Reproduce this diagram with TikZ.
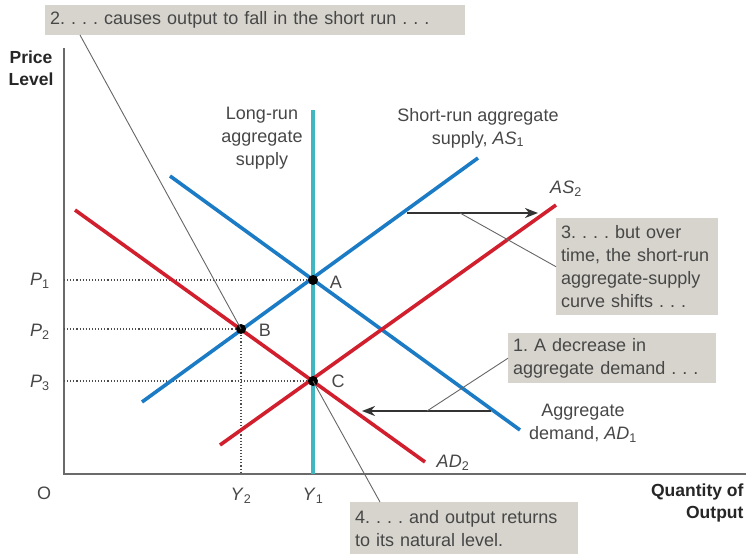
\documentclass[tikz,border=0pt]{standalone}
\usepackage{fontspec}
\setmainfont{Liberation Sans}
\usetikzlibrary{arrows.meta}
\definecolor{asblue}{HTML}{1B7BC4}
\definecolor{adred}{HTML}{D21F2E}
\definecolor{lrteal}{HTML}{3FB6C2}
\definecolor{boxgray}{HTML}{D6D4CC}
\definecolor{txtgray}{HTML}{474747}
\definecolor{axgray}{HTML}{6A6A6A}
\newcommand{\subl}[2]{\textit{#1}\textsubscript{#2}}
\frenchspacing
\begin{document}
\begin{tikzpicture}[x=1pt,y=-1pt,
  every node/.style={text=txtgray,font=\fontsize{18}{23}\selectfont},
  callout/.style={fill=boxgray,anchor=north west,align=left,inner xsep=5pt,inner ysep=2pt},
  curve/.style={line width=3.6pt},
  axisline/.style={axgray,line width=1.4pt},
  guide/.style={black!70,line width=1.1pt,dotted},
  leader/.style={black!60,line width=0.9pt},
  shiftarrow/.style={black!80,line width=2pt,-{Stealth[length=13pt,width=10pt]}},
  eqdot/.style={circle,fill=black,inner sep=0pt,minimum size=10pt},
  bold/.style={font=\fontsize{17.5}{22}\selectfont\bfseries,text=black!85},
  lbl/.style={inner sep=1pt}]
\useasboundingbox (0,0) rectangle (748,554);
% axes
\coordinate (O) at (64,474);
\coordinate (ytop) at (64,48);
\coordinate (xend) at (746,474);
\draw[axisline] (ytop) -- (O) -- (xend);
% points
\coordinate (A) at (313,280);
\coordinate (B) at (241,329);
\coordinate (C) at (313,381);
% guides
\draw[guide] (64,280) -- (A);
\draw[guide] (64,329) -- (B);
\draw[guide] (64,381) -- (C);
\draw[guide] (B) -- (241,474);
% LRAS
\coordinate (lr1) at (313,110);
\coordinate (lr2) at (313,474);
\draw[lrteal,line width=3.4pt] (lr1) -- (lr2);
% curves
\coordinate (as1a) at (142,402); \coordinate (as1b) at (478,158);
\coordinate (ad1a) at (170,176); \coordinate (ad1b) at (520,430);
\coordinate (ad2a) at (75,210);  \coordinate (ad2b) at (425,462);
\coordinate (as2a) at (220,445); \coordinate (as2b) at (556,205);
\draw[curve,asblue] (as1a) -- (as1b);
\draw[curve,asblue] (ad1a) -- (ad1b);
\draw[curve,adred] (ad2a) -- (ad2b);
\draw[curve,adred] (as2a) -- (as2b);
% shift arrows
\coordinate (s1a) at (407,213); \coordinate (s1b) at (538,213);
\coordinate (s2a) at (491,411); \coordinate (s2b) at (362,411);
\draw[shiftarrow] (s1a) -- (s1b);
\draw[shiftarrow] (s2a) -- (s2b);
% dots
\node[eqdot] (dA) at (A) {};
\node[eqdot] (dB) at (B) {};
\node[eqdot] (dC) at (C) {};
\node[lbl] (lA) at (336,282) {A};
\node[lbl] (lB) at (265,330) {B};
\node[lbl] (lC) at (338,381) {C};
% axis labels
\node[align=center,bold] (plev) at (31,68) {Price\\Level};
\node[align=right,anchor=east,bold] (qout) at (747,503) {Quantity of\\Output};
\node (zero) at (44,493) {O};
\node (p1) at (40,281) {\subl{P}{1}};
\node (p2) at (40,332) {\subl{P}{2}};
\node (p3) at (40,383) {\subl{P}{3}};
\node (y2) at (241,496) {\subl{Y}{2}};
\node (y1) at (313,496) {\subl{Y}{1}};
% curve labels
\node[align=center] (lrl) at (262,138) {Long-run\\aggregate\\supply};
\node[align=center] (srl) at (478,128) {Short-run aggregate\\supply, \subl{AS}{1}};
\node (as2l) at (566,189) {\subl{AS}{2}};
\node[align=center] (ad1l) at (583,423) {Aggregate\\demand, \subl{AD}{1}};
\node (ad2l) at (453,463) {\subl{AD}{2}};
% callouts
\node[callout,text width=410pt,minimum height=30pt] (c2) at (45,5) {2. . . . causes output to fall in the short run . . .};
\node[callout,text width=152pt,minimum height=97pt] (c3) at (556,218) {3. . . . but over\\time, the short-run\\aggregate-supply\\curve shifts . . .};
\node[callout,text width=198pt,minimum height=50pt] (c1) at (508,333) {1. A decrease in\\aggregate demand . . .};
\node[callout,text width=218pt,minimum height=52pt] (c4) at (350,502) {4. . . . and output returns\\to its natural level.};
% leaders
\coordinate (k2) at (80,35);
\coordinate (k3) at (460,213);
\coordinate (k1) at (427,411);
\coordinate (k4) at (380,502);
\draw[leader] (k2) -- (B);
\draw[leader] (k3) -- (c3.west);
\draw[leader] (k1) -- (c1.west);
\draw[leader] (C) -- (k4);
\end{tikzpicture}
\end{document}
